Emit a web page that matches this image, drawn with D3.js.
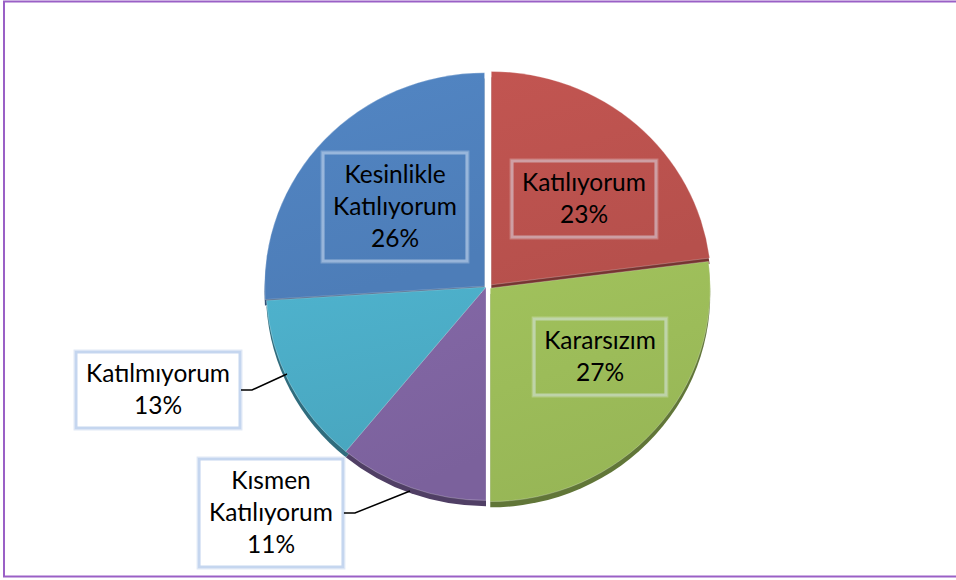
<!DOCTYPE html>
<html>
<head>
<meta charset="utf-8">
<script src="https://cdn.jsdelivr.net/npm/d3@7"></script>
<style>
  body { margin: 0; background: #fff; }
  svg { display: block; }
  text { font-family: Lato, "Open Sans", sans-serif; fill: #000; }
</style>
</head>
<body>
<svg width="956" height="580"></svg>
<script>
// data, clockwise from 12 o'clock
var categories = ["Katılıyorum", "Kararsızım", "Kısmen Katılıyorum", "Katılmıyorum", "Kesinlikle Katılıyorum"];
var labelLines = [["Katılıyorum"], ["Kararsızım"], ["Kısmen", "Katılıyorum"], ["Katılmıyorum"], ["Kesinlikle", "Katılıyorum"]];
var values = [23, 27, 11, 13, 26];
var colors = ["#bb524e", "#9bbb59", "#7f64a1", "#4bacc6", "#4f81bd"];
var explode = [5, 3, 0, 0, 2];

var svg = d3.select("svg");
var cx = 486, cy = 287, R = 220, squash = 0.97, depth = 6;

// frame
svg.append("rect")
    .attr("x", 4).attr("y", 1.5)
    .attr("width", 1000).attr("height", 575)
    .attr("fill", "none")
    .attr("stroke", "#9a60c6")
    .attr("stroke-width", 2);

var defs = svg.append("defs");
colors.forEach(function (c, i) {
    var g = defs.append("linearGradient")
        .attr("id", "grad" + i)
        .attr("x1", 0).attr("y1", 0).attr("x2", 0.3).attr("y2", 1);
    g.append("stop").attr("offset", "0%").attr("stop-color", d3.color(c).brighter(0.1));
    g.append("stop").attr("offset", "100%").attr("stop-color", d3.color(c).darker(0.08));
});

var pie = d3.pie().sort(null).value(function (d) { return d; });
var arcs = pie(values);
var arc = d3.arc().innerRadius(0).outerRadius(R);

var pieG = svg.append("g")
    .attr("transform", "translate(" + cx + "," + cy + ") scale(1," + squash + ")");

function offset(d, i) {
    var a = (d.startAngle + d.endAngle) / 2;
    var dx = Math.sin(a) * explode[i], dy = -Math.cos(a) * explode[i];
    return [dx > 0 ? dx + 2 : dx, dy * 0.6];
}

// sides (thickness)
pieG.selectAll("path.side")
    .data(arcs)
    .enter().append("path")
    .attr("class", "side")
    .attr("transform", function (d, i) {
        var o = offset(d, i);
        return "translate(" + o[0] + "," + (o[1] + depth) + ")";
    })
    .attr("d", arc)
    .attr("fill", function (d, i) { return d3.color(colors[i]).darker(1.3); });

// top faces
pieG.selectAll("path.top")
    .data(arcs)
    .enter().append("path")
    .attr("class", "top")
    .attr("transform", function (d, i) {
        var o = offset(d, i);
        return "translate(" + o[0] + "," + o[1] + ")";
    })
    .attr("d", arc)
    .attr("fill", function (d, i) { return "url(#grad" + i + ")"; })
    .attr("stroke", "rgba(255,255,255,0.25)")
    .attr("stroke-width", 1);

// labels
var lineH = 32;
var outside = { 2: [271, 513, 410, 491], 3: [158, 390, 287, 374] };
var insideAt = { 0: [584, 199], 1: [600, 357], 4: [395, 207] };

var labelG = svg.append("g");
arcs.forEach(function (d, i) {
    var lines = labelLines[i].concat([values[i] + "%"]);
    var pos = outside[i] ? outside[i] : insideAt[i];
    var g = labelG.append("g").attr("transform", "translate(" + pos[0] + "," + pos[1] + ")");
    var t = g.append("text")
        .attr("text-anchor", "middle")
        .style("font-size", "24.5px");
    lines.forEach(function (s, k) {
        t.append("tspan")
            .attr("x", 0)
            .attr("y", (k - (lines.length - 1) / 2) * lineH + 8)
            .text(s);
    });
    var bb = t.node().getBBox();
    var w = bb.width + 20, h = lines.length * lineH + 12;
    if (outside[i]) {
        g.insert("rect", "text")
            .attr("x", -w / 2 - 2).attr("y", -h / 2 - 2)
            .attr("width", w + 4).attr("height", h + 4)
            .attr("fill", "none").attr("stroke", "#e1e9f5").attr("stroke-width", 1);
        g.insert("rect", "text")
            .attr("x", -w / 2).attr("y", -h / 2)
            .attr("width", w).attr("height", h)
            .attr("fill", "#fff").attr("stroke", "#c5d6ef").attr("stroke-width", 3);
        // leader line
        var ex = pos[0] + w / 2 + 1;
        svg.append("path")
            .attr("d", "M" + ex + "," + pos[1] + "L" + (ex + 11) + "," + pos[1] + "L" + pos[2] + "," + pos[3])
            .attr("fill", "none").attr("stroke", "#000").attr("stroke-width", 1.5);
    } else {
        g.insert("rect", "text")
            .attr("x", -w / 2 - 2).attr("y", -h / 2 - 2)
            .attr("width", w + 4).attr("height", h + 4)
            .attr("fill", "none").attr("stroke", "rgba(255,255,255,0.25)").attr("stroke-width", 1);
        g.insert("rect", "text")
            .attr("x", -w / 2).attr("y", -h / 2)
            .attr("width", w).attr("height", h)
            .attr("fill", "none").attr("stroke", "rgba(225,235,250,0.5)").attr("stroke-width", 3);
    }
});
</script>
</body>
</html>
